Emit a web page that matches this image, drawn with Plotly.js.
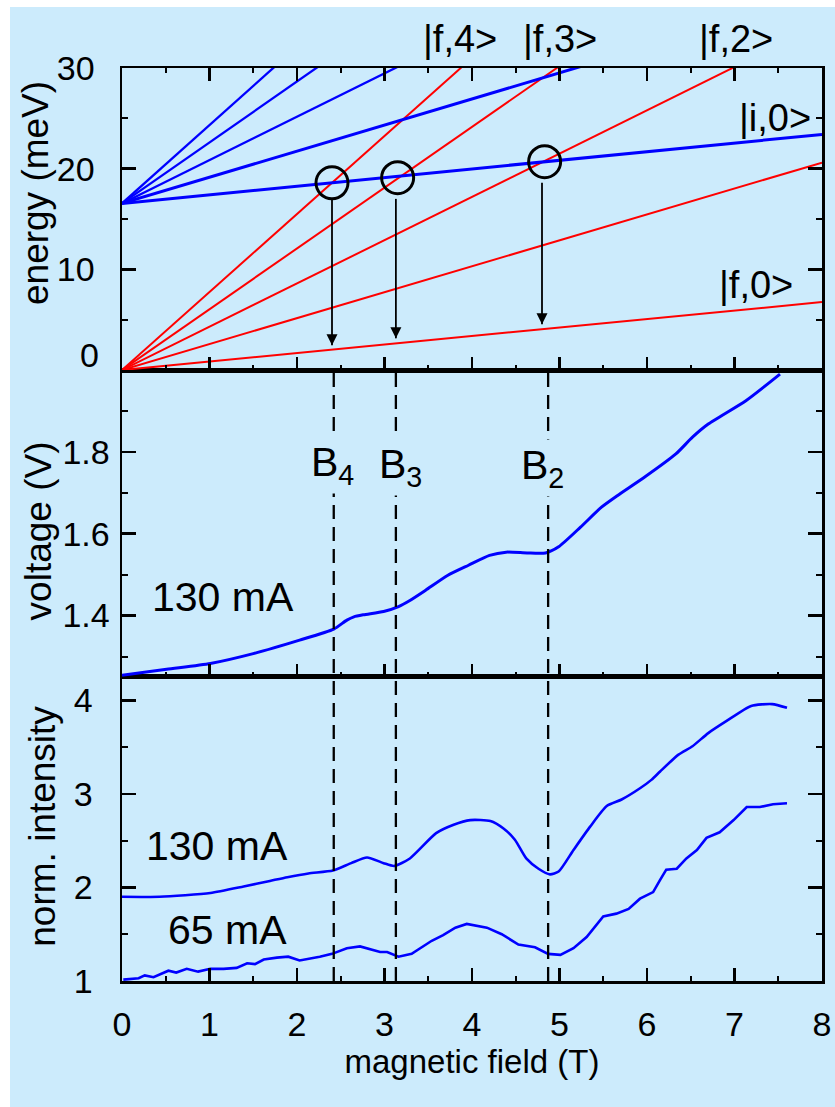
<!DOCTYPE html>
<html>
<head>
<meta charset="utf-8">
<script src="https://cdn.plot.ly/plotly-3.0.1.min.js"></script>
<style>html,body{margin:0;padding:0;background:#fff;}#chart{width:835px;height:1107px;}</style>
</head>
<body>
<div id="chart"></div>
<script>
// ---------- DATA ----------
// Top panel: Landau-level fan, energies (meV) at B = 0 and at B = 8 T
const fanB = [0, 8];
const fLabels = ['|f,0>', '|f,1>', '|f,2>', '|f,3>', '|f,4>'];
const fStart = [0, 0, 0, 0, 0];
const fEnd = [6.75, 20.6, 34.4, 48.3, 62.0];
const iLabels = ['|i,0>', '|i,1>', '|i,2>', '|i,3>', '|i,4>'];
const iStart = [16.55, 16.55, 16.55, 16.55, 16.55];
const iEnd = [23.4, 37.3, 51.0, 65.0, 78.8];
// crossings marked with circles
const circB = [2.40, 3.15, 4.83];
const circE = [18.6, 19.1, 20.7];
// arrows: field, start energy, tip energy
const arrowB = [2.40, 3.13, 4.80];
const arrowFrom = [17.0, 17.0, 18.6];
const arrowTo = [2.45, 3.15, 4.55];
// resonance fields (dashed lines)
const resB = [2.42, 3.13, 4.87];
const resLabels = ['B<sub>4</sub>', 'B<sub>3</sub>', 'B<sub>2</sub>'];

// Middle panel: voltage (V) at 130 mA
const vB = [0.0, 0.51, 1.01, 1.50, 2.03, 2.42, 2.57, 2.65, 2.76, 2.99, 3.16, 3.29, 3.47, 3.72, 3.96, 4.20, 4.39, 4.63, 4.84, 4.99, 5.24, 5.48, 5.66, 5.97, 6.33, 6.52, 6.70, 7.13, 7.52];
const vV = [1.254, 1.269, 1.283, 1.307, 1.340, 1.367, 1.389, 1.397, 1.402, 1.410, 1.422, 1.437, 1.462, 1.498, 1.523, 1.547, 1.555, 1.553, 1.553, 1.568, 1.616, 1.665, 1.693, 1.738, 1.795, 1.836, 1.868, 1.925, 1.990];

// Bottom panel: normalized intensity
const i130B = [0.0, 0.43, 1.01, 1.39, 1.69, 1.89, 2.13, 2.41, 2.62, 2.80, 2.99, 3.11, 3.29, 3.59, 3.79, 3.98, 4.21, 4.36, 4.49, 4.62, 4.76, 4.89, 4.99, 5.16, 5.35, 5.54, 5.71, 5.92, 6.05, 6.15, 6.36, 6.52, 6.70, 6.91, 7.19, 7.43, 7.60];
const i130V = [1.90, 1.90, 1.94, 2.01, 2.07, 2.11, 2.15, 2.18, 2.26, 2.32, 2.26, 2.23, 2.31, 2.58, 2.67, 2.72, 2.71, 2.63, 2.51, 2.31, 2.20, 2.14, 2.17, 2.40, 2.65, 2.87, 2.94, 3.06, 3.15, 3.24, 3.42, 3.51, 3.65, 3.78, 3.94, 3.96, 3.92];
const i65B = [0.015, 0.19, 0.26, 0.36, 0.53, 0.62, 0.74, 0.87, 1.01, 1.16, 1.31, 1.43, 1.52, 1.62, 1.77, 1.90, 2.03, 2.15, 2.26, 2.40, 2.57, 2.72, 2.83, 2.95, 3.03, 3.16, 3.31, 3.41, 3.54, 3.67, 3.81, 3.94, 4.17, 4.34, 4.53, 4.72, 4.87, 5.01, 5.16, 5.31, 5.50, 5.65, 5.79, 5.92, 6.07, 6.15, 6.22, 6.34, 6.45, 6.57, 6.68, 6.83, 6.99, 7.14, 7.29, 7.44, 7.60];
const i65V = [1.015, 1.03, 1.06, 1.04, 1.11, 1.09, 1.13, 1.10, 1.13, 1.13, 1.14, 1.19, 1.18, 1.23, 1.25, 1.26, 1.22, 1.24, 1.26, 1.29, 1.35, 1.37, 1.34, 1.31, 1.31, 1.26, 1.29, 1.35, 1.43, 1.49, 1.57, 1.61, 1.57, 1.50, 1.39, 1.36, 1.29, 1.28, 1.35, 1.47, 1.69, 1.72, 1.77, 1.88, 1.95, 2.08, 2.19, 2.20, 2.31, 2.40, 2.53, 2.59, 2.72, 2.86, 2.86, 2.89, 2.90];

// tick labels and titles
const xTicks = [0, 1, 2, 3, 4, 5, 6, 7, 8];
const eTicks = [10, 20, 30];
const vTicks = [1.4, 1.6, 1.8];
const nTicks = [1, 2, 3, 4];
const yTitles = ['energy (meV)', 'voltage (V)', 'norm. intensity'];

// ---------- STYLE ----------
const BG = 'rgb(204,235,252)';
const FONT = 'Liberation Sans, Arial, Helvetica, sans-serif';
const RED = 'rgb(255,0,0)';
const BLUE = 'rgb(0,0,255)';
const iWidths = [3, 3, 2.3, 2.3, 2.3];

const traces = [];
for (let k = 0; k < fStart.length; k++) {
  traces.push({x: fanB, y: [fStart[k], fEnd[k]], xaxis: 'x3', yaxis: 'y3', mode: 'lines',
    name: fLabels[k], line: {color: RED, width: 2}, hoverinfo: 'skip'});
}
for (let k = 0; k < iStart.length; k++) {
  traces.push({x: fanB, y: [iStart[k], iEnd[k]], xaxis: 'x3', yaxis: 'y3', mode: 'lines',
    name: iLabels[k], line: {color: BLUE, width: iWidths[k]}, hoverinfo: 'skip'});
}
traces.push({x: circB, y: circE, xaxis: 'x3', yaxis: 'y3', mode: 'markers', cliponaxis: false,
  marker: {symbol: 'circle-open', size: 32, color: 'black', line: {width: 3, color: 'black'}}});
// arrows: shaft + head
for (let k = 0; k < arrowB.length; k++) {
  traces.push({x: [arrowB[k], arrowB[k]], y: [arrowFrom[k], arrowTo[k]], xaxis: 'x3', yaxis: 'y3',
    mode: 'lines', line: {color: 'black', width: 1.8}, hoverinfo: 'skip'});
}
traces.push({x: arrowB, y: arrowTo, xaxis: 'x3', yaxis: 'y3', mode: 'markers', cliponaxis: false,
  marker: {symbol: 'arrow-down', size: 11, color: 'black', line: {width: 0}}, hoverinfo: 'skip'});

traces.push({x: vB, y: vV, xaxis: 'x2', yaxis: 'y2', mode: 'lines',
  line: {color: BLUE, width: 3, shape: 'spline', smoothing: 0.6}});
traces.push({x: i130B, y: i130V, xaxis: 'x', yaxis: 'y', mode: 'lines',
  line: {color: BLUE, width: 2.6, shape: 'spline', smoothing: 0.6}});
traces.push({x: i65B, y: i65V, xaxis: 'x', yaxis: 'y', mode: 'lines', line: {color: BLUE, width: 2.6}});

const tickFont = {family: FONT, size: 34, color: 'black'};
const titleFont = {family: FONT, size: 37, color: 'black'};
const common = {
  showline: true, linecolor: 'black', linewidth: 2.5, ticks: 'inside', tickcolor: 'black',
  tickwidth: 2.5, showgrid: false, zeroline: false, tickfont: tickFont, fixedrange: true
};
const xMinor = {ticks: 'inside', ticklen: 5, tickwidth: 2, tickcolor: 'black', dtick: 0.5, tick0: 0, showgrid: false};

const layout = {
  width: 835, height: 1107,
  margin: {l: 122, r: 13, t: 68, b: 126},
  paper_bgcolor: BG, plot_bgcolor: BG,
  showlegend: false,
  font: {family: FONT, color: 'black'},
  xaxis: Object.assign({}, common, {anchor: 'y', domain: [0, 1], range: [0, 8], tickvals: xTicks,
    ticklen: 13, mirror: true, minor: xMinor, ticklabelstandoff: 12,
    title: {text: 'magnetic field (T)', font: {family: FONT, size: 33, color: 'black'}, standoff: 3}}),
  xaxis2: Object.assign({}, common, {anchor: 'y2', matches: 'x', range: [0, 8], tickvals: xTicks,
    ticklen: 13, mirror: true, minor: xMinor, showticklabels: false}),
  xaxis3: Object.assign({}, common, {anchor: 'y3', matches: 'x', range: [0, 8], tickvals: xTicks,
    ticklen: 13, mirror: 'allticks', minor: xMinor, showticklabels: false}),
  yaxis: Object.assign({}, common, {anchor: 'x', domain: [0, 0.333], range: [1, 4.25], tickvals: nTicks,
    ticklen: 14, mirror: 'allticks', ticklabelstandoff: 20,
    minor: {ticks: 'inside', ticklen: 6, tickwidth: 2, tickcolor: 'black', tickvals: [1.5, 2.5, 3.5]}}),
  yaxis2: Object.assign({}, common, {anchor: 'x2', domain: [0.333, 0.6692], range: [1.25, 2.0], tickvals: vTicks,
    ticklen: 14, mirror: 'allticks', ticklabelstandoff: 3,
    minor: {ticks: 'inside', ticklen: 6, tickwidth: 2, tickcolor: 'black', tickvals: [1.3, 1.5, 1.7, 1.9]}}),
  yaxis3: Object.assign({}, common, {anchor: 'x3', domain: [0.6692, 1], range: [0, 30], tickvals: eTicks,
    ticklen: 14, mirror: 'allticks', ticklabelstandoff: 18,
    minor: {ticks: 'inside', ticklen: 6, tickwidth: 2, tickcolor: 'black', tickvals: [5, 15, 25]}}),
  shapes: [
    {type: 'rect', xref: 'paper', yref: 'paper', x0: -0.2, x1: -0.16, y0: -0.2, y1: 1.2,
      fillcolor: 'white', line: {width: 0}, layer: 'below'},
    {type: 'rect', xref: 'paper', yref: 'paper', x0: -0.2, x1: 1.1, y0: 1.0668, y1: 1.2,
      fillcolor: 'white', line: {width: 0}, layer: 'below'}
  ],
  annotations: []
};

// y-axis titles (placed as rotated texts beside each panel)
const yTitleX = [-0.1236, -0.1193, -0.1136];
const yTitleY = [0.8636, 0.493, 0.1695];
for (let k = 0; k < yTitles.length; k++) {
  layout.annotations.push({text: yTitles[k], xref: 'paper', yref: 'paper', x: yTitleX[k], y: yTitleY[k],
    textangle: -90, showarrow: false, font: titleFont, xanchor: 'center', yanchor: 'middle'});
}

// dashed resonance lines
resB.forEach(b => {
  layout.shapes.push({type: 'line', xref: 'x', yref: 'paper', x0: b, x1: b, y0: 0, y1: 0.6692,
    line: {color: 'black', width: 2.3, dash: '14px,8px'}, layer: 'above'});
});

const annFont = {family: FONT, size: 38, color: 'black'};
const bigFont = {family: FONT, size: 41, color: 'black'};
// state labels above top panel
[['|f,4>', 3.86], ['|f,3>', 5.01], ['|f,2>', 7.02]].forEach(([t, b]) => {
  layout.annotations.push({text: t, xref: 'x3', yref: 'paper', x: b, y: 1.032, showarrow: false,
    font: annFont, xanchor: 'center', yanchor: 'middle'});
});
layout.annotations.push({text: '|i,0>', xref: 'x3', yref: 'y3', x: 7.46, y: 25.0, showarrow: false,
  font: annFont, xanchor: 'center', yanchor: 'middle'});
layout.annotations.push({text: '|f,0>', xref: 'x3', yref: 'y3', x: 7.24, y: 8.44, showarrow: false,
  font: annFont, xanchor: 'center', yanchor: 'middle'});
// shifted zero label of energy axis
layout.annotations.push({text: '0', xref: 'paper', yref: 'y3', x: -0.03, y: 1.5, showarrow: false,
  font: tickFont, xanchor: 'right', yanchor: 'middle'});
// B labels
const resLabelX = [2.41, 3.18, 4.81];
const resLabelY = [1.768, 1.763, 1.760];
for (let k = 0; k < resLabels.length; k++) {
  layout.annotations.push({text: resLabels[k], xref: 'x2', yref: 'y2', x: resLabelX[k], y: resLabelY[k],
    showarrow: false, font: bigFont, bgcolor: BG, borderpad: 2, xanchor: 'center', yanchor: 'middle'});
}
// current labels
layout.annotations.push({text: '130 mA', xref: 'x2', yref: 'y2', x: 1.15, y: 1.446, showarrow: false,
  font: bigFont, xanchor: 'center', yanchor: 'middle'});
layout.annotations.push({text: '130 mA', xref: 'x', yref: 'y', x: 1.09, y: 2.44, showarrow: false,
  font: bigFont, xanchor: 'center', yanchor: 'middle'});
layout.annotations.push({text: '65 mA', xref: 'x', yref: 'y', x: 1.21, y: 1.54, showarrow: false,
  font: bigFont, xanchor: 'center', yanchor: 'middle'});

Plotly.newPlot('chart', traces, layout, {displayModeBar: false, staticPlot: true});
</script>
</body>
</html>
